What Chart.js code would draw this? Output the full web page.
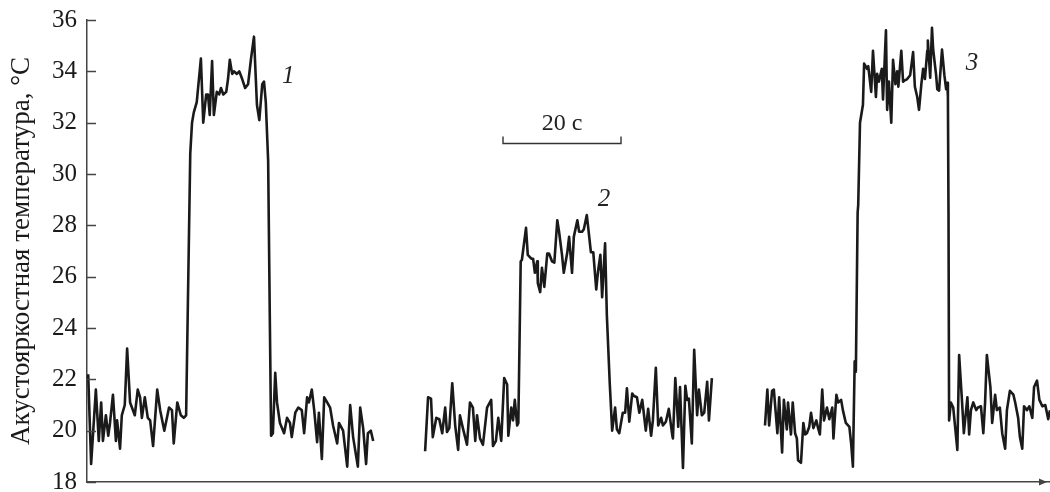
<!DOCTYPE html>
<html>
<head>
<meta charset="utf-8">
<script src="https://cdn.jsdelivr.net/npm/chart.js@4"></script>
<style>
html, body { margin: 0; padding: 0; background: #fff; }
#wrap { width: 1050px; height: 492px; position: relative; }
</style>
</head>
<body>
<div id="wrap"><canvas id="tempChart"></canvas></div>
<script>
// time, s / acoustic brightness temperature, °C
var seg1Time = [0.2,0.7,1.5,2.0,2.4,2.7,3.2,3.6,3.9,4.4,4.9,5.1,5.6,5.9,6.4,6.8,7.3,8.1,8.6,9.0,
    9.3,9.8,10.3,10.7,11.2,11.9,12.4,13.1,13.9,14.4,14.7,15.3,15.9,16.4,16.8,17.1,17.5,17.8,18.1,18.6,
    19.3,19.7,20.2,20.5,20.8,21.2,21.5,22.0,22.4,22.7,23.1,23.6,23.9,24.2,24.6,24.9,25.4,25.8,26.3,26.8,
    27.3,27.8,28.3,28.8,29.2,29.7,30.0,30.3,30.7,31.0,31.2,31.5,31.9,32.2,32.7,33.4,33.9,34.4,34.7,35.3,
    35.8,36.4,36.8,37.3,37.6,38.1,38.5,39.0,39.3,39.8,40.2,40.7,41.2,41.7,42.4,42.7,43.4,44.1,44.6,45.1,
    45.9,46.3,46.8,47.3,47.6,48.1,48.5];
var seg1Temp = [22.2,18.7,21.6,19.6,21.1,19.6,20.6,19.8,20.3,21.4,19.6,20.4,19.3,20.6,21.0,23.2,21.1,20.6,21.6,21.3,
    20.5,21.3,20.5,20.4,19.4,21.6,20.8,20.0,20.9,20.8,19.5,21.1,20.6,20.5,20.6,25.0,30.8,32.0,32.4,32.8,
    34.5,32.0,33.1,33.1,32.3,34.4,32.3,33.2,33.1,33.35,33.1,33.2,33.7,34.45,33.9,34.0,33.9,34.0,33.7,33.35,
    33.5,34.5,35.35,32.7,32.1,33.5,33.6,32.8,30.5,24.0,19.8,19.9,22.25,21.1,20.3,19.9,20.5,20.3,19.75,20.7,
    20.9,20.8,19.9,21.3,21.1,21.6,20.8,19.55,20.7,18.9,21.3,21.1,20.9,20.2,19.5,20.3,20.0,18.6,21.0,19.75,
    18.6,20.9,20.1,18.7,19.9,20.0,19.6];

var seg2Time = [57.3,57.8,58.3,58.6,59.2,59.7,60.2,60.7,61.0,61.4,61.9,62.4,62.9,63.2,63.7,64.4,64.9,65.4,65.8,66.1,
    66.6,67.1,67.8,68.5,68.8,69.3,69.7,70.2,70.7,71.2,71.4,71.9,72.2,72.5,72.9,73.1,73.5,73.7,74.4,74.7,
    75.3,75.6,75.9,76.3,76.4,76.8,77.1,77.5,78.0,78.3,78.8,79.2,79.7,80.0,80.5,80.8,81.4,81.7,82.2,82.5,
    83.1,83.4,83.9,84.2,84.7,84.9,85.4,85.8,86.3,86.6,87.0,87.3,87.8,88.1,88.6,89.0,89.5,89.8,90.2,90.8,
    91.2,91.5,91.9,92.4,92.7,93.2,93.6,94.1,94.4,94.7,95.1,95.6,95.9,96.4,96.8,97.3,97.6,98.1,98.6,99.2,
    99.3,99.7,100.2,100.5,101.0,101.4,101.7,102.0,102.5,102.9,103.4,103.7,104.2,104.6,105.1,105.4,105.9];
var seg2Temp = [19.2,21.3,21.25,19.75,20.5,20.45,19.9,20.9,19.95,20.1,21.85,20.2,19.25,20.6,20.1,19.45,21.1,20.9,19.6,20.6,
    19.7,19.45,20.9,21.2,19.4,19.6,20.5,19.6,22.05,21.8,19.8,20.9,20.4,21.2,20.2,20.3,26.6,26.65,27.9,26.85,
    26.7,26.7,26.15,26.6,25.75,25.4,26.35,25.6,26.9,26.9,26.6,26.55,28.2,27.75,26.85,26.15,26.95,27.55,26.15,27.55,
    28.2,27.75,27.75,27.85,28.4,28.0,26.95,26.95,25.5,26.2,26.85,25.2,27.3,24.5,21.8,20.0,20.9,20.05,19.9,20.7,
    20.7,21.65,20.35,21.45,21.35,21.3,20.7,21.2,20.6,20.0,20.85,19.8,20.4,22.45,20.2,20.5,20.2,20.35,20.85,19.8,
    19.7,22.05,20.15,21.7,18.55,21.75,21.2,21.25,19.5,23.15,20.6,21.6,20.6,20.7,21.9,20.4,22.05];

var seg3Time = [114.9,115.3,115.6,116.1,116.4,117.0,117.3,117.8,118.1,118.6,118.8,119.3,119.6,120.0,120.3,120.5,121.0,121.4,121.7,122.0,
    122.4,122.7,123.1,123.6,123.9,124.2,124.6,124.9,125.4,125.8,126.3,126.5,127.0,127.3,127.8,128.1,128.6,129.2,129.5,129.8,
    130.1,130.3,130.6,130.7,131.0,131.5,131.7,132.2,132.4,132.9,133.2,133.7,133.9,134.2,134.7,134.9,135.4,135.6,135.9,136.3,
    136.6,137.0,137.3,137.5,138.0,138.3,138.6,139.0,139.5,140.0,140.3,140.7,141.0,141.4,141.7,142.0,142.4,142.5,142.9,143.2,
    143.4,143.9,144.1,144.4,144.9,145.3,145.6,145.8,145.9,146.0,146.1,146.4,146.8,147.5,147.8,148.3,148.6,149.2,149.5,149.8,
    150.2,150.7,151.0,151.5,151.9,152.2,152.5,153.1,153.4,153.9,154.2,154.7,155.1,155.6,155.9,156.4,157.0,157.3,157.8,158.1,
    158.5,158.8,159.3,159.7,160.2,160.5,161.0,161.4,161.9,162.4,162.9,163.2];
var seg3Temp = [20.2,21.6,20.2,21.55,21.6,19.9,21.3,19.15,21.2,20.05,21.1,19.85,21.1,19.9,19.7,18.85,18.75,20.3,19.85,19.9,
    20.15,20.7,20.1,20.4,20.1,19.85,21.6,20.4,20.9,20.45,20.9,19.7,21.4,21.1,21.2,20.8,20.3,20.15,19.5,18.6,
    22.7,22.3,28.5,28.8,32.0,32.7,34.3,34.1,34.2,33.2,34.8,33.0,33.9,33.6,34.1,32.9,35.6,32.5,33.6,32.0,
    34.45,33.5,34.0,33.4,34.8,33.6,33.65,33.7,33.85,34.75,33.4,33.0,32.5,33.5,34.1,33.7,34.8,35.2,33.75,35.7,
    34.85,33.85,33.3,33.25,34.85,33.85,33.3,33.55,33.0,28.5,20.4,21.1,20.9,19.25,22.95,21.1,19.9,21.3,19.85,20.8,
    21.1,20.8,20.9,20.95,19.9,21.1,22.95,21.7,20.3,21.4,20.8,20.9,19.9,19.3,20.8,21.55,21.4,21.1,20.5,19.75,
    19.3,20.95,20.8,20.95,20.5,21.7,21.95,21.2,20.95,21.0,20.45,20.8];

var yTicks = [18, 20, 22, 24, 26, 28, 30, 32, 34, 36];
var yTitle = 'Акустояркостная температура, °С';

// curve numbers and the 20 s scale bar, in data units
var curveNames = ['1', '2', '3'];
var curveNameTime = [34.1, 87.6, 150.0];
var curveNameTemp = [33.8, 29.0, 34.3];
var barStart = 70.5, barSeconds = 20, barTemp = 31.2, barText = '20 с';

var serif = "'Liberation Serif', 'Times New Roman', serif";
var ink = '#1a1a1a';

function points(t, v){
    var out = [];
    t.forEach(function(x, i){ out.push({x: x, y: v[i]}); });
    return out;
}

function series(t, v){
    return {
        data: points(t, v),
        borderColor: ink,
        borderWidth: 2.6,
        borderJoinStyle: 'round',
        pointRadius: 0,
        tension: 0,
        fill: false
    };
}

var extras = {
    id: 'extras',
    afterDraw: function(chart){
        var ctx = chart.ctx, xs = chart.scales.x, ys = chart.scales.y, area = chart.chartArea;
        ctx.save();
        // inward tick marks on the y axis
        ctx.strokeStyle = '#444';
        ctx.lineWidth = 1.5;
        yTicks.forEach(function(v){
            var y = Math.round(ys.getPixelForValue(v)) + 0.5;
            ctx.beginPath();
            ctx.moveTo(area.left, y);
            ctx.lineTo(area.left + 9, y);
            ctx.stroke();
        });
        // arrow at the end of the time axis
        var ay = area.bottom, ax = area.right - 3;
        ctx.fillStyle = '#444';
        ctx.beginPath();
        ctx.moveTo(ax, ay);
        ctx.lineTo(ax - 8, ay - 3.5);
        ctx.lineTo(ax - 8, ay + 3.5);
        ctx.closePath();
        ctx.fill();
        // scale bar
        var x0 = xs.getPixelForValue(barStart), x1 = xs.getPixelForValue(barStart + barSeconds);
        var by = Math.round(ys.getPixelForValue(barTemp)) + 0.5;
        ctx.strokeStyle = '#333';
        ctx.lineWidth = 1.4;
        ctx.beginPath();
        ctx.moveTo(x0, by - 7);
        ctx.lineTo(x0, by);
        ctx.lineTo(x1, by);
        ctx.lineTo(x1, by - 7);
        ctx.stroke();
        ctx.fillStyle = '#222';
        ctx.font = '24px ' + serif;
        ctx.textAlign = 'center';
        ctx.textBaseline = 'alphabetic';
        ctx.fillText(barText, (x0 + x1) / 2, by - 14);
        // curve numbers
        ctx.font = 'italic 25px ' + serif;
        ctx.textBaseline = 'middle';
        curveNames.forEach(function(n, i){
            ctx.fillText(n, xs.getPixelForValue(curveNameTime[i]), ys.getPixelForValue(curveNameTemp[i]));
        });
        ctx.restore();
    }
};

var chart = new Chart(document.getElementById('tempChart'), {
    type: 'line',
    data: {
        datasets: [series(seg1Time, seg1Temp), series(seg2Time, seg2Temp), series(seg3Time, seg3Temp)]
    },
    options: {
        responsive: true,
        maintainAspectRatio: false,
        animation: false,
        devicePixelRatio: 1,
        layout: { padding: { top: 20, right: 0, bottom: 0, left: 0 } },
        plugins: { legend: { display: false }, tooltip: { enabled: false } },
        scales: {
            x: {
                type: 'linear',
                min: 0,
                max: 163.2,
                grid: { display: false, drawTicks: false },
                ticks: { display: false },
                border: { display: true, color: '#444', width: 1.5 },
                afterFit: function(s){
                    s.height = 10;
                    s.paddingLeft = 0; s.paddingRight = 0;
                }
            },
            y: {
                min: 18,
                max: 36,
                grid: { display: false, drawTicks: false },
                border: { display: true, color: '#444', width: 1.5 },
                ticks: {
                    stepSize: 2,
                    padding: 10,
                    color: '#1a1a1a',
                    font: { family: serif, size: 25 }
                },
                title: {
                    display: true,
                    text: yTitle,
                    color: '#1a1a1a',
                    font: { family: serif, size: 27 },
                    padding: { top: 6, bottom: 0 }
                },
                afterFit: function(s){
                    s.width = 87;
                    s.paddingTop = 0; s.paddingBottom = 0;
                }
            }
        }
    },
    plugins: [extras]
});
</script>
</body>
</html>
